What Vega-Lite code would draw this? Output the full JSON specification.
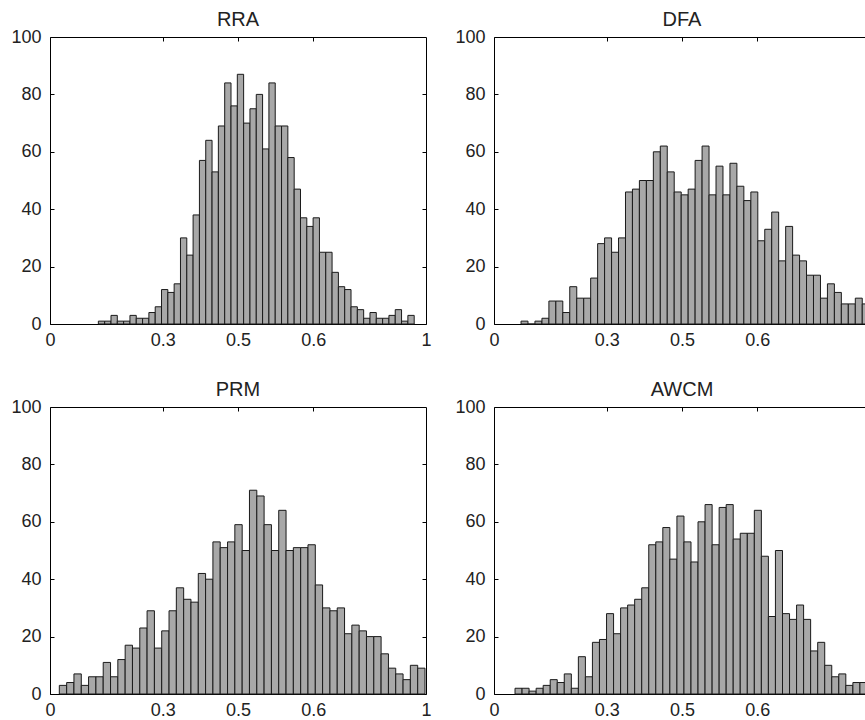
{
  "$schema": "https://vega.github.io/schema/vega-lite/v6.json",
  "padding": {"left": 10, "top": 9, "right": 0, "bottom": 0},
  "background": "white",
  "datasets": {
    "hist": [
      {"m":"RRA","lo":0.1286,"hi":0.1454,"n":1},{"m":"RRA","lo":0.1454,"hi":0.1622,"n":1},{"m":"RRA","lo":0.1622,"hi":0.179,"n":3},{"m":"RRA","lo":0.179,"hi":0.1958,"n":1},{"m":"RRA","lo":0.1958,"hi":0.2126,"n":1},
      {"m":"RRA","lo":0.2126,"hi":0.2294,"n":3},{"m":"RRA","lo":0.2294,"hi":0.2462,"n":2},{"m":"RRA","lo":0.2462,"hi":0.263,"n":2},{"m":"RRA","lo":0.263,"hi":0.2798,"n":4},{"m":"RRA","lo":0.2798,"hi":0.2966,"n":6},
      {"m":"RRA","lo":0.2966,"hi":0.3134,"n":12},{"m":"RRA","lo":0.3134,"hi":0.3302,"n":11},{"m":"RRA","lo":0.3302,"hi":0.347,"n":14},{"m":"RRA","lo":0.347,"hi":0.3638,"n":30},{"m":"RRA","lo":0.3638,"hi":0.3806,"n":24},
      {"m":"RRA","lo":0.3806,"hi":0.3974,"n":38},{"m":"RRA","lo":0.3974,"hi":0.4142,"n":57},{"m":"RRA","lo":0.4142,"hi":0.431,"n":64},{"m":"RRA","lo":0.431,"hi":0.4478,"n":53},{"m":"RRA","lo":0.4478,"hi":0.4646,"n":69},
      {"m":"RRA","lo":0.4646,"hi":0.4814,"n":84},{"m":"RRA","lo":0.4814,"hi":0.4982,"n":76},{"m":"RRA","lo":0.4982,"hi":0.515,"n":87},{"m":"RRA","lo":0.515,"hi":0.5318,"n":70},{"m":"RRA","lo":0.5318,"hi":0.5486,"n":75},
      {"m":"RRA","lo":0.5486,"hi":0.5654,"n":80},{"m":"RRA","lo":0.5654,"hi":0.5822,"n":61},{"m":"RRA","lo":0.5822,"hi":0.599,"n":84},{"m":"RRA","lo":0.599,"hi":0.6158,"n":69},{"m":"RRA","lo":0.6158,"hi":0.6326,"n":69},
      {"m":"RRA","lo":0.6326,"hi":0.6494,"n":58},{"m":"RRA","lo":0.6494,"hi":0.6662,"n":47},{"m":"RRA","lo":0.6662,"hi":0.683,"n":37},{"m":"RRA","lo":0.683,"hi":0.6998,"n":34},{"m":"RRA","lo":0.6998,"hi":0.7166,"n":37},
      {"m":"RRA","lo":0.7166,"hi":0.7334,"n":25},{"m":"RRA","lo":0.7334,"hi":0.7502,"n":25},{"m":"RRA","lo":0.7502,"hi":0.767,"n":18},{"m":"RRA","lo":0.767,"hi":0.7838,"n":13},{"m":"RRA","lo":0.7838,"hi":0.8006,"n":12},
      {"m":"RRA","lo":0.8006,"hi":0.8174,"n":6},{"m":"RRA","lo":0.8174,"hi":0.8342,"n":5},{"m":"RRA","lo":0.8342,"hi":0.851,"n":2},{"m":"RRA","lo":0.851,"hi":0.8678,"n":4},{"m":"RRA","lo":0.8678,"hi":0.8846,"n":2},
      {"m":"RRA","lo":0.8846,"hi":0.9014,"n":2},{"m":"RRA","lo":0.9014,"hi":0.9182,"n":3},{"m":"RRA","lo":0.9182,"hi":0.935,"n":5},{"m":"RRA","lo":0.935,"hi":0.9518,"n":1},{"m":"RRA","lo":0.9518,"hi":0.9686,"n":3},

      {"m":"DFA","lo":0.0719,"hi":0.0904,"n":1},{"m":"DFA","lo":0.0904,"hi":0.1089,"n":0},{"m":"DFA","lo":0.1089,"hi":0.1275,"n":1},{"m":"DFA","lo":0.1275,"hi":0.146,"n":2},{"m":"DFA","lo":0.146,"hi":0.1645,"n":8},
      {"m":"DFA","lo":0.1645,"hi":0.183,"n":8},{"m":"DFA","lo":0.183,"hi":0.2015,"n":4},{"m":"DFA","lo":0.2015,"hi":0.2201,"n":13},{"m":"DFA","lo":0.2201,"hi":0.2386,"n":9},{"m":"DFA","lo":0.2386,"hi":0.2571,"n":9},
      {"m":"DFA","lo":0.2571,"hi":0.2756,"n":16},{"m":"DFA","lo":0.2756,"hi":0.2941,"n":28},{"m":"DFA","lo":0.2941,"hi":0.3127,"n":30},{"m":"DFA","lo":0.3127,"hi":0.3312,"n":25},{"m":"DFA","lo":0.3312,"hi":0.3497,"n":30},
      {"m":"DFA","lo":0.3497,"hi":0.3682,"n":46},{"m":"DFA","lo":0.3682,"hi":0.3867,"n":47},{"m":"DFA","lo":0.3867,"hi":0.4053,"n":50},{"m":"DFA","lo":0.4053,"hi":0.4238,"n":50},{"m":"DFA","lo":0.4238,"hi":0.4423,"n":60},
      {"m":"DFA","lo":0.4423,"hi":0.4608,"n":62},{"m":"DFA","lo":0.4608,"hi":0.4793,"n":53},{"m":"DFA","lo":0.4793,"hi":0.4979,"n":46},{"m":"DFA","lo":0.4979,"hi":0.5164,"n":45},{"m":"DFA","lo":0.5164,"hi":0.5349,"n":47},
      {"m":"DFA","lo":0.5349,"hi":0.5534,"n":57},{"m":"DFA","lo":0.5534,"hi":0.5719,"n":62},{"m":"DFA","lo":0.5719,"hi":0.5905,"n":45},{"m":"DFA","lo":0.5905,"hi":0.609,"n":55},{"m":"DFA","lo":0.609,"hi":0.6275,"n":45},
      {"m":"DFA","lo":0.6275,"hi":0.646,"n":56},{"m":"DFA","lo":0.646,"hi":0.6645,"n":48},{"m":"DFA","lo":0.6645,"hi":0.6831,"n":43},{"m":"DFA","lo":0.6831,"hi":0.7016,"n":46},{"m":"DFA","lo":0.7016,"hi":0.7201,"n":29},
      {"m":"DFA","lo":0.7201,"hi":0.7386,"n":33},{"m":"DFA","lo":0.7386,"hi":0.7571,"n":39},{"m":"DFA","lo":0.7571,"hi":0.7757,"n":22},{"m":"DFA","lo":0.7757,"hi":0.7942,"n":34},{"m":"DFA","lo":0.7942,"hi":0.8127,"n":24},
      {"m":"DFA","lo":0.8127,"hi":0.8312,"n":22},{"m":"DFA","lo":0.8312,"hi":0.8497,"n":17},{"m":"DFA","lo":0.8497,"hi":0.8683,"n":17},{"m":"DFA","lo":0.8683,"hi":0.8868,"n":9},{"m":"DFA","lo":0.8868,"hi":0.9053,"n":14},
      {"m":"DFA","lo":0.9053,"hi":0.9238,"n":11},{"m":"DFA","lo":0.9238,"hi":0.9423,"n":7},{"m":"DFA","lo":0.9423,"hi":0.9609,"n":7},{"m":"DFA","lo":0.9609,"hi":0.9794,"n":9},{"m":"DFA","lo":0.9794,"hi":0.9979,"n":7},

      {"m":"PRM","lo":0.0248,"hi":0.0443,"n":3},{"m":"PRM","lo":0.0443,"hi":0.0637,"n":4},{"m":"PRM","lo":0.0637,"hi":0.0832,"n":7},{"m":"PRM","lo":0.0832,"hi":0.1026,"n":3},{"m":"PRM","lo":0.1026,"hi":0.1221,"n":6},
      {"m":"PRM","lo":0.1221,"hi":0.1415,"n":6},{"m":"PRM","lo":0.1415,"hi":0.161,"n":11},{"m":"PRM","lo":0.161,"hi":0.1804,"n":6},{"m":"PRM","lo":0.1804,"hi":0.1999,"n":12},{"m":"PRM","lo":0.1999,"hi":0.2193,"n":17},
      {"m":"PRM","lo":0.2193,"hi":0.2388,"n":16},{"m":"PRM","lo":0.2388,"hi":0.2582,"n":23},{"m":"PRM","lo":0.2582,"hi":0.2777,"n":29},{"m":"PRM","lo":0.2777,"hi":0.2971,"n":16},{"m":"PRM","lo":0.2971,"hi":0.3166,"n":22},
      {"m":"PRM","lo":0.3166,"hi":0.336,"n":29},{"m":"PRM","lo":0.336,"hi":0.3555,"n":37},{"m":"PRM","lo":0.3555,"hi":0.3749,"n":33},{"m":"PRM","lo":0.3749,"hi":0.3944,"n":32},{"m":"PRM","lo":0.3944,"hi":0.4138,"n":42},
      {"m":"PRM","lo":0.4138,"hi":0.4333,"n":40},{"m":"PRM","lo":0.4333,"hi":0.4527,"n":53},{"m":"PRM","lo":0.4527,"hi":0.4722,"n":51},{"m":"PRM","lo":0.4722,"hi":0.4916,"n":53},{"m":"PRM","lo":0.4916,"hi":0.5111,"n":59},
      {"m":"PRM","lo":0.5111,"hi":0.5305,"n":50},{"m":"PRM","lo":0.5305,"hi":0.55,"n":71},{"m":"PRM","lo":0.55,"hi":0.5694,"n":69},{"m":"PRM","lo":0.5694,"hi":0.5889,"n":59},{"m":"PRM","lo":0.5889,"hi":0.6083,"n":50},
      {"m":"PRM","lo":0.6083,"hi":0.6278,"n":64},{"m":"PRM","lo":0.6278,"hi":0.6472,"n":50},{"m":"PRM","lo":0.6472,"hi":0.6667,"n":51},{"m":"PRM","lo":0.6667,"hi":0.6861,"n":51},{"m":"PRM","lo":0.6861,"hi":0.7056,"n":52},
      {"m":"PRM","lo":0.7056,"hi":0.725,"n":38},{"m":"PRM","lo":0.725,"hi":0.7445,"n":30},{"m":"PRM","lo":0.7445,"hi":0.7639,"n":29},{"m":"PRM","lo":0.7639,"hi":0.7834,"n":30},{"m":"PRM","lo":0.7834,"hi":0.8028,"n":21},
      {"m":"PRM","lo":0.8028,"hi":0.8223,"n":24},{"m":"PRM","lo":0.8223,"hi":0.8417,"n":22},{"m":"PRM","lo":0.8417,"hi":0.8612,"n":20},{"m":"PRM","lo":0.8612,"hi":0.8806,"n":20},{"m":"PRM","lo":0.8806,"hi":0.9001,"n":14},
      {"m":"PRM","lo":0.9001,"hi":0.9195,"n":9},{"m":"PRM","lo":0.9195,"hi":0.939,"n":7},{"m":"PRM","lo":0.939,"hi":0.9584,"n":5},{"m":"PRM","lo":0.9584,"hi":0.9779,"n":10},{"m":"PRM","lo":0.9779,"hi":0.9973,"n":9},

      {"m":"AWCM","lo":0.0559,"hi":0.0746,"n":2},{"m":"AWCM","lo":0.0746,"hi":0.0933,"n":2},{"m":"AWCM","lo":0.0933,"hi":0.1121,"n":1},{"m":"AWCM","lo":0.1121,"hi":0.1308,"n":2},{"m":"AWCM","lo":0.1308,"hi":0.1495,"n":3},
      {"m":"AWCM","lo":0.1495,"hi":0.1682,"n":5},{"m":"AWCM","lo":0.1682,"hi":0.1869,"n":4},{"m":"AWCM","lo":0.1869,"hi":0.2057,"n":7},{"m":"AWCM","lo":0.2057,"hi":0.2244,"n":2},{"m":"AWCM","lo":0.2244,"hi":0.2431,"n":13},
      {"m":"AWCM","lo":0.2431,"hi":0.2618,"n":6},{"m":"AWCM","lo":0.2618,"hi":0.2805,"n":18},{"m":"AWCM","lo":0.2805,"hi":0.2993,"n":19},{"m":"AWCM","lo":0.2993,"hi":0.318,"n":28},{"m":"AWCM","lo":0.318,"hi":0.3367,"n":21},
      {"m":"AWCM","lo":0.3367,"hi":0.3554,"n":30},{"m":"AWCM","lo":0.3554,"hi":0.3741,"n":31},{"m":"AWCM","lo":0.3741,"hi":0.3929,"n":33},{"m":"AWCM","lo":0.3929,"hi":0.4116,"n":37},{"m":"AWCM","lo":0.4116,"hi":0.4303,"n":52},
      {"m":"AWCM","lo":0.4303,"hi":0.449,"n":53},{"m":"AWCM","lo":0.449,"hi":0.4677,"n":58},{"m":"AWCM","lo":0.4677,"hi":0.4865,"n":47},{"m":"AWCM","lo":0.4865,"hi":0.5052,"n":62},{"m":"AWCM","lo":0.5052,"hi":0.5239,"n":53},
      {"m":"AWCM","lo":0.5239,"hi":0.5426,"n":46},{"m":"AWCM","lo":0.5426,"hi":0.5613,"n":60},{"m":"AWCM","lo":0.5613,"hi":0.5801,"n":66},{"m":"AWCM","lo":0.5801,"hi":0.5988,"n":52},{"m":"AWCM","lo":0.5988,"hi":0.6175,"n":65},
      {"m":"AWCM","lo":0.6175,"hi":0.6362,"n":66},{"m":"AWCM","lo":0.6362,"hi":0.6549,"n":54},{"m":"AWCM","lo":0.6549,"hi":0.6737,"n":56},{"m":"AWCM","lo":0.6737,"hi":0.6924,"n":56},{"m":"AWCM","lo":0.6924,"hi":0.7111,"n":64},
      {"m":"AWCM","lo":0.7111,"hi":0.7298,"n":48},{"m":"AWCM","lo":0.7298,"hi":0.7485,"n":27},{"m":"AWCM","lo":0.7485,"hi":0.7673,"n":50},{"m":"AWCM","lo":0.7673,"hi":0.786,"n":28},{"m":"AWCM","lo":0.786,"hi":0.8047,"n":26},
      {"m":"AWCM","lo":0.8047,"hi":0.8234,"n":31},{"m":"AWCM","lo":0.8234,"hi":0.8421,"n":26},{"m":"AWCM","lo":0.8421,"hi":0.8609,"n":15},{"m":"AWCM","lo":0.8609,"hi":0.8796,"n":18},{"m":"AWCM","lo":0.8796,"hi":0.8983,"n":10},
      {"m":"AWCM","lo":0.8983,"hi":0.917,"n":6},{"m":"AWCM","lo":0.917,"hi":0.9357,"n":7},{"m":"AWCM","lo":0.9357,"hi":0.9545,"n":3},{"m":"AWCM","lo":0.9545,"hi":0.9732,"n":4},{"m":"AWCM","lo":0.9732,"hi":0.9919,"n":4}
    ]
  },
  "data": {"name": "hist"},
  "columns": 2,
  "spacing": {"row": 83, "column": 68},
  "bounds": "flush",
  "concat": [
    {
      "title": "RRA",
      "width": 376, "height": 287,
      "transform": [{"filter": "datum.m == 'RRA'"}],
      "layer": [
        {"mark": {"type": "bar", "fill": "#a8a8a8", "stroke": "#1a1a1a", "strokeWidth": 1},
         "encoding": {
           "x": {"field": "lo", "type": "quantitative", "scale": {"domain": [0, 1], "nice": false}, "axis": {"orient": "bottom", "title": null, "labelPadding": 11.5, "values": [0, 0.3, 0.5, 0.7, 1], "labelExpr": "datum.value > 0.65 && datum.value < 0.75 ? '0.6' : format(datum.value, '~g')"}},
           "x2": {"field": "hi"},
           "y": {"field": "n", "type": "quantitative", "scale": {"domain": [0, 100], "nice": false}, "axis": {"orient": "left", "title": null, "labelPadding": 13, "values": [0, 20, 40, 60, 80, 100]}},
           "y2": {"datum": 0}}},
        {"mark": {"type": "bar", "opacity": 0},
         "encoding": {
           "x": {"field": "lo", "type": "quantitative", "scale": {"domain": [0, 1], "nice": false}, "axis": {"orient": "top", "title": null, "labels": false, "values": [0.3, 0.5, 0.7]}},
           "x2": {"field": "hi"},
           "y": {"field": "n", "type": "quantitative", "scale": {"domain": [0, 100], "nice": false}, "axis": {"orient": "right", "title": null, "labels": false, "values": [20, 40, 60, 80]}},
           "y2": {"datum": 0}}}
      ],
      "resolve": {"axis": {"x": "independent", "y": "independent"}}
    },
    {
      "title": "DFA",
      "width": 376, "height": 287,
      "transform": [{"filter": "datum.m == 'DFA'"}],
      "layer": [
        {"mark": {"type": "bar", "fill": "#a8a8a8", "stroke": "#1a1a1a", "strokeWidth": 1},
         "encoding": {
           "x": {"field": "lo", "type": "quantitative", "scale": {"domain": [0, 1], "nice": false}, "axis": {"orient": "bottom", "title": null, "labelPadding": 11.5, "values": [0, 0.3, 0.5, 0.7, 1], "labelExpr": "datum.value > 0.65 && datum.value < 0.75 ? '0.6' : format(datum.value, '~g')"}},
           "x2": {"field": "hi"},
           "y": {"field": "n", "type": "quantitative", "scale": {"domain": [0, 100], "nice": false}, "axis": {"orient": "left", "title": null, "labelPadding": 13, "values": [0, 20, 40, 60, 80, 100]}},
           "y2": {"datum": 0}}},
        {"mark": {"type": "bar", "opacity": 0},
         "encoding": {
           "x": {"field": "lo", "type": "quantitative", "scale": {"domain": [0, 1], "nice": false}, "axis": {"orient": "top", "title": null, "labels": false, "values": [0.3, 0.5, 0.7]}},
           "x2": {"field": "hi"},
           "y": {"field": "n", "type": "quantitative", "scale": {"domain": [0, 100], "nice": false}, "axis": {"orient": "right", "title": null, "labels": false, "values": [20, 40, 60, 80]}},
           "y2": {"datum": 0}}}
      ],
      "resolve": {"axis": {"x": "independent", "y": "independent"}}
    },
    {
      "title": "PRM",
      "width": 376, "height": 287,
      "transform": [{"filter": "datum.m == 'PRM'"}],
      "layer": [
        {"mark": {"type": "bar", "fill": "#a8a8a8", "stroke": "#1a1a1a", "strokeWidth": 1},
         "encoding": {
           "x": {"field": "lo", "type": "quantitative", "scale": {"domain": [0, 1], "nice": false}, "axis": {"orient": "bottom", "title": null, "labelPadding": 11.5, "values": [0, 0.3, 0.5, 0.7, 1], "labelExpr": "datum.value > 0.65 && datum.value < 0.75 ? '0.6' : format(datum.value, '~g')"}},
           "x2": {"field": "hi"},
           "y": {"field": "n", "type": "quantitative", "scale": {"domain": [0, 100], "nice": false}, "axis": {"orient": "left", "title": null, "labelPadding": 13, "values": [0, 20, 40, 60, 80, 100]}},
           "y2": {"datum": 0}}},
        {"mark": {"type": "bar", "opacity": 0},
         "encoding": {
           "x": {"field": "lo", "type": "quantitative", "scale": {"domain": [0, 1], "nice": false}, "axis": {"orient": "top", "title": null, "labels": false, "values": [0.3, 0.5, 0.7]}},
           "x2": {"field": "hi"},
           "y": {"field": "n", "type": "quantitative", "scale": {"domain": [0, 100], "nice": false}, "axis": {"orient": "right", "title": null, "labels": false, "values": [20, 40, 60, 80]}},
           "y2": {"datum": 0}}}
      ],
      "resolve": {"axis": {"x": "independent", "y": "independent"}}
    },
    {
      "title": "AWCM",
      "width": 376, "height": 287,
      "transform": [{"filter": "datum.m == 'AWCM'"}],
      "layer": [
        {"mark": {"type": "bar", "fill": "#a8a8a8", "stroke": "#1a1a1a", "strokeWidth": 1},
         "encoding": {
           "x": {"field": "lo", "type": "quantitative", "scale": {"domain": [0, 1], "nice": false}, "axis": {"orient": "bottom", "title": null, "labelPadding": 11.5, "values": [0, 0.3, 0.5, 0.7, 1], "labelExpr": "datum.value > 0.65 && datum.value < 0.75 ? '0.6' : format(datum.value, '~g')"}},
           "x2": {"field": "hi"},
           "y": {"field": "n", "type": "quantitative", "scale": {"domain": [0, 100], "nice": false}, "axis": {"orient": "left", "title": null, "labelPadding": 13, "values": [0, 20, 40, 60, 80, 100]}},
           "y2": {"datum": 0}}},
        {"mark": {"type": "bar", "opacity": 0},
         "encoding": {
           "x": {"field": "lo", "type": "quantitative", "scale": {"domain": [0, 1], "nice": false}, "axis": {"orient": "top", "title": null, "labels": false, "values": [0.3, 0.5, 0.7]}},
           "x2": {"field": "hi"},
           "y": {"field": "n", "type": "quantitative", "scale": {"domain": [0, 100], "nice": false}, "axis": {"orient": "right", "title": null, "labels": false, "values": [20, 40, 60, 80]}},
           "y2": {"datum": 0}}}
      ],
      "resolve": {"axis": {"x": "independent", "y": "independent"}}
    }
  ],
  "config": {
    "font": "Liberation Sans",
    "view": {"stroke": "#000", "strokeWidth": 1},
    "axis": {"domain": false, "grid": false, "tickColor": "#000", "tickSize": -4, "tickWidth": 1, "labelFontSize": 18, "labelColor": "#222", "labelFlush": false, "labelPadding": 8, "labelFont": "Liberation Sans"},
    "title": {"fontSize": 20, "fontWeight": "normal", "anchor": "middle", "color": "#222", "offset": -2, "font": "Liberation Sans"}
  }
}
